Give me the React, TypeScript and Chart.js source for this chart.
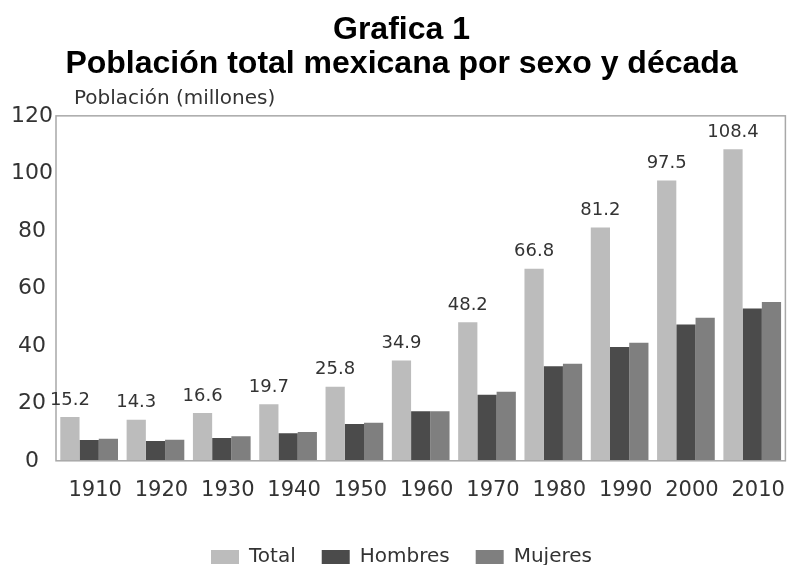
import React, { useEffect, useRef } from "react";
import { Chart, registerables } from "chart.js";

Chart.register(...registerables);

const decades = ["1910", "1920", "1930", "1940", "1950", "1960", "1970", "1980", "1990", "2000", "2010"];
const totalValues = [15.2, 14.3, 16.6, 19.7, 25.8, 34.9, 48.2, 66.8, 81.2, 97.5, 108.4];
const hombresValues = [7.2, 6.9, 7.9, 9.6, 12.8, 17.2, 23.0, 32.9, 39.6, 47.4, 53.0];
const mujeresValues = [7.7, 7.3, 8.5, 10.0, 13.2, 17.2, 24.0, 33.8, 41.1, 49.8, 55.2];
const yTickValues = [0, 20, 40, 60, 80, 100, 120];
const seriesNames = ["Total", "Hombres", "Mujeres"];
const titleLines = ["Grafica 1", "Población total mexicana por sexo y década"];
const axisTitle = "Población (millones)";

const FONT = '"DejaVu Sans", sans-serif';

const decorPlugin = {
  id: "decor",
  afterDatasetsDraw(chart: any) {
    const { ctx, chartArea: a } = chart;
    ctx.save();
    ctx.strokeStyle = "#a8a8a8";
    ctx.lineWidth = 1.5;
    ctx.strokeRect(a.left, a.top, a.right - a.left, a.bottom - a.top);
    const meta = chart.getDatasetMeta(0);
    ctx.fillStyle = "#333333";
    ctx.font = `18px ${FONT}`;
    ctx.textAlign = "center";
    ctx.textBaseline = "bottom";
    meta.data.forEach((bar: any, i: number) => {
      ctx.fillText(totalValues[i].toFixed(1), bar.x, bar.y - 8);
    });
    ctx.textAlign = "left";
    ctx.textBaseline = "middle";
    ctx.font = `20px ${FONT}`;
    ctx.fillText(axisTitle, a.left + 18, a.top - 17);
    ctx.restore();
  },
};

export default function App() {
  const canvasRef = useRef<HTMLCanvasElement | null>(null);

  useEffect(() => {
    if (!canvasRef.current) return;
    const chart = new Chart(canvasRef.current, {
      type: "bar",
      data: {
        labels: decades,
        datasets: [
          { label: seriesNames[0], data: totalValues, backgroundColor: "#bcbcbc" },
          { label: seriesNames[1], data: hombresValues, backgroundColor: "#4b4b4b" },
          { label: seriesNames[2], data: mujeresValues, backgroundColor: "#7f7f7f" },
        ],
      },
      options: {
        animation: false,
        responsive: false,
        maintainAspectRatio: false,
        devicePixelRatio: 1,
        layout: { padding: { left: 8, right: 1, top: 0, bottom: -12 } },
        datasets: { bar: { categoryPercentage: 0.87, barPercentage: 1.0 } },
        scales: {
          x: {
            grid: { display: false, drawTicks: false },
            border: { display: false },
            afterFit: (scale: any) => {
              scale.height = scale.height + 1;
            },
            ticks: { font: { family: FONT, size: 21 }, color: "#333333", padding: 17, labelOffset: 6, maxRotation: 0 },
          },
          y: {
            min: 0,
            max: 120,
            afterBuildTicks: (scale: any) => {
              scale.ticks = yTickValues.map((v) => ({ value: v }));
            },
            afterFit: (scale: any) => {
              scale.width = 48;
            },
            grid: { display: false, drawTicks: false },
            border: { display: false },
            ticks: { font: { family: FONT, size: 22 }, color: "#333333", padding: 3, crossAlign: "center" },
          },
        },
        plugins: {
          title: {
            display: true,
            text: titleLines,
            font: { family: '"Liberation Sans", Arial, sans-serif', size: 32, weight: "bold", lineHeight: 1.06 },
            color: "#000000",
            padding: { top: 13, bottom: 35 },
          },
          legend: {
            position: "bottom",
            labels: {
              boxWidth: 28,
              boxHeight: 14,
              font: { family: FONT, size: 20 },
              color: "#333333",
              padding: 26,
            },
          },
          tooltip: { enabled: false },
        },
      },
      plugins: [decorPlugin],
    });
    return () => chart.destroy();
  }, []);

  return (
    <div style={{ position: "absolute", left: 0, top: 0, width: 796, height: 565, background: "#fff" }}>
      <canvas ref={canvasRef} width={796} height={565} />
    </div>
  );
}
